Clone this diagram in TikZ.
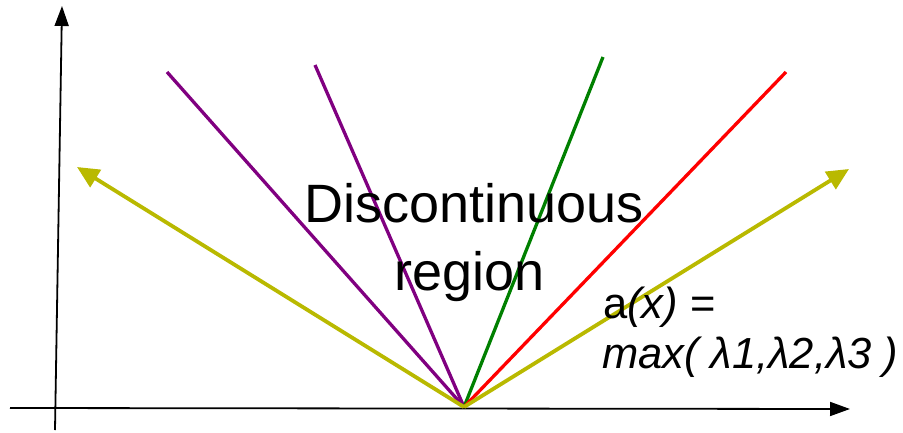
\documentclass[tikz,border=0pt]{standalone}
\usepackage{fontspec}
\setmainfont{Liberation Sans}
\usetikzlibrary{arrows.meta}
\definecolor{olive}{RGB}{185,185,0}
\definecolor{vpurple}{RGB}{128,0,128}
\definecolor{vgreen}{RGB}{0,128,0}
\definecolor{vred}{RGB}{255,0,0}
\begin{document}
\begin{tikzpicture}[x=1pt,y=-1pt,
  axis/.style={line width=1.8pt,black,-{Triangle[length=20pt,width=14pt]}},
  ray/.style={line width=3.3pt},
  yarrow/.style={line width=3.8pt,olive,-{Triangle[length=22pt,width=20pt]}},
  bigtxt/.style={font=\fontsize{54}{65}\selectfont,inner sep=0pt,anchor=base},
  eqtxt/.style={font=\fontsize{43.5}{50}\selectfont,inner sep=0pt,anchor=base west}]
\useasboundingbox (0,0) rectangle (903,432);
\coordinate (O) at (464,407);
\coordinate (ybot) at (55,430);
\coordinate (ytop) at (62,6);
\coordinate (xleft) at (10,408);
\coordinate (xright) at (850,409);
\coordinate (p1) at (167,72);
\coordinate (p2) at (315,65);
\coordinate (g1) at (603,57);
\coordinate (r1) at (786,72);
\coordinate (yl) at (77,167);
\coordinate (yr) at (849,169);
\draw[axis] (ybot) -- (ytop);
\draw[axis] (xleft) -- (xright);
\draw[ray,vpurple] (O) -- (p1);
\draw[ray,vpurple] (O) -- (p2);
\draw[ray,vgreen] (O) -- (g1);
\draw[ray,vred] (O) -- (r1);
\draw[yarrow] (O) -- (yl);
\draw[yarrow] (O) -- (yr);
\node[bigtxt] (t1) at (474,222) {Discontinuous};
\node[bigtxt] (t2) at (470,290) {region};
\node[eqtxt] (e1) at (603,318) {a\textit{(x)} =};
\node[eqtxt] (e2) at (602,368) {\textit{max( λ1,λ2,λ3 )}};
\end{tikzpicture}
\end{document}
